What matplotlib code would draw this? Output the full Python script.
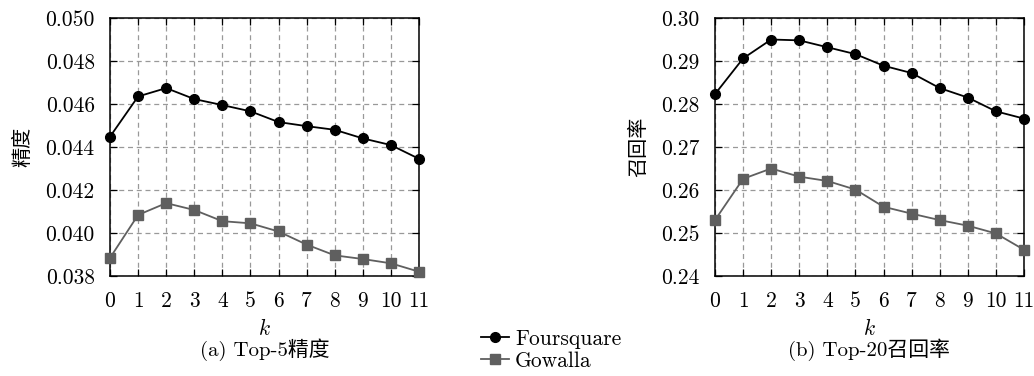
import matplotlib
matplotlib.use("Agg")
import matplotlib.pyplot as plt
from matplotlib.ticker import FormatStrFormatter

plt.rcParams['font.family'] = ['cmr10', 'Noto Sans CJK SC', 'DejaVu Sans']
plt.rcParams['mathtext.fontset'] = 'cm'
plt.rcParams['axes.formatter.use_mathtext'] = True

k_values = list(range(12))
x_ticklabels = [str(k) for k in k_values]

precision_foursquare = [0.04448, 0.04635, 0.04674, 0.04623, 0.04595, 0.04566,
                        0.04516, 0.04497, 0.04480, 0.04440, 0.04409, 0.04345]
precision_gowalla = [0.03884, 0.04084, 0.04139, 0.04107, 0.04055, 0.04045,
                     0.04007, 0.03946, 0.03896, 0.03879, 0.03859, 0.03820]

recall_foursquare = [0.2823, 0.2906, 0.2950, 0.2948, 0.2932, 0.2916,
                     0.2889, 0.2872, 0.2837, 0.2815, 0.2783, 0.2766]
recall_gowalla = [0.2530, 0.2626, 0.2650, 0.2631, 0.2621, 0.2601,
                  0.2561, 0.2545, 0.2530, 0.2517, 0.2499, 0.2461]

series_names = ['Foursquare', 'Gowalla']
y_labels = ['精度', '召回率']
captions = ['(a) Top-5精度', '(b) Top-20召回率']
y_ticks_a = [0.038, 0.040, 0.042, 0.044, 0.046, 0.048, 0.050]
y_ticks_b = [0.24, 0.25, 0.26, 0.27, 0.28, 0.29, 0.30]

W, H = 1034, 376
fig = plt.figure(figsize=(W / 100, H / 100), dpi=100)

ax_a = fig.add_axes([110 / W, 1 - 276 / H, 309 / W, 258 / H])
ax_b = fig.add_axes([715 / W, 1 - 276 / H, 309 / W, 258 / H])

FS = 15.5
gray = '#5f5f5f'

configs = [
    (ax_a, precision_foursquare, precision_gowalla, y_ticks_a, '%.3f'),
    (ax_b, recall_foursquare, recall_gowalla, y_ticks_b, '%.2f'),
]

handles = []
for i, (ax, f, g, yt, fmt) in enumerate(configs):
    h1, = ax.plot(k_values, f, color='black', marker='o', markersize=7,
                  linewidth=1.3, clip_on=False, zorder=5, label=series_names[0])
    h2, = ax.plot(k_values, g, color=gray, marker='s', markersize=7,
                  linewidth=1.3, clip_on=False, zorder=4, label=series_names[1])
    if i == 0:
        handles = [h1, h2]
    ax.set_xlim(0, 11)
    ax.set_ylim(yt[0], yt[-1])
    ax.set_xticks(k_values)
    ax.set_xticklabels(x_ticklabels)
    ax.set_yticks(yt)
    ax.yaxis.set_major_formatter(FormatStrFormatter(fmt))
    ax.grid(True, linestyle=(0, (4, 3)), color='#999999', linewidth=0.9)
    ax.tick_params(direction='in', top=True, right=True, length=5,
                   labelsize=FS, width=0.9)
    ax.tick_params(axis='x', pad=11)
    ax.tick_params(axis='y', pad=11)
    for s in ax.spines.values():
        s.set_linewidth(1.1)
    ax.set_xlabel('$k$', fontsize=FS, labelpad=5)
    ax.set_ylabel(y_labels[i], fontsize=FS - 1, labelpad=9,
                  family=['Noto Sans CJK SC', 'DejaVu Sans'])
    ax.set_axisbelow(True)

fig.text((110 + 154.5) / W, 1 - 350 / H, captions[0], ha='center', va='center',
         fontsize=FS - 0.5, family=['cmr10', 'Noto Sans CJK SC'])
fig.text((715 + 154.5) / W, 1 - 350 / H, captions[1], ha='center', va='center',
         fontsize=FS - 0.5, family=['cmr10', 'Noto Sans CJK SC'])

fig.legend(handles=handles, loc='center', bbox_to_anchor=(551 / W, 1 - 350 / H),
           frameon=False, fontsize=FS, handlelength=1.3, handletextpad=0.3,
           labelspacing=0.1, borderpad=0)

fig.savefig('out.png', dpi=100)
